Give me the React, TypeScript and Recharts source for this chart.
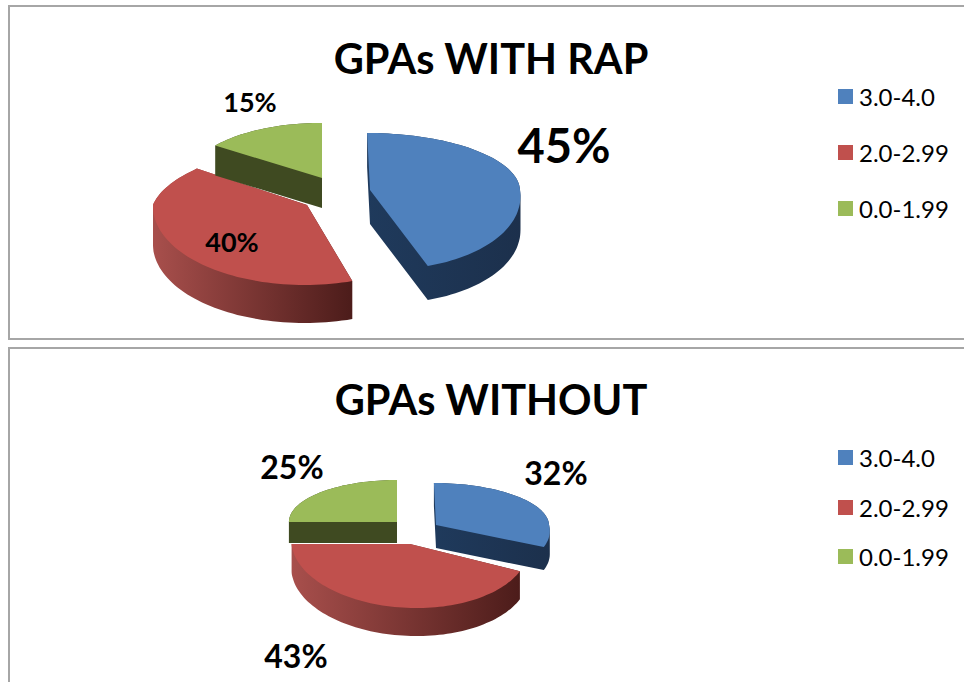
import { PieChart, Pie, Legend } from "recharts"

const CATEGORIES = ["3.0-4.0", "2.0-2.99", "0.0-1.99"]
const WITH_RAP = [45, 40, 15]
const WITHOUT_RAP = [32, 43, 25]
const COLORS = ["#4f81bd", "#c0504d", "#9bbb59"]
const WALL_FROM = ["#1f3a5c", "#a84f4c", "#3f4a21"]
const WALL_TO = ["#1c304c", "#4c1c1a", "#3f4a21"]

const FONT = "Lato, sans-serif"

// how each slice is pulled out and squashed, rx/top/bottom are fractions of the pie radius
const TOP_VIEWS = [
  { dx: 30, dy: -10, rx: 1.0, top: 0.38, bottom: 0.533, depth: 34, skewTop: 0.05, skewBottom: 0.15 },
  { dx: -33, dy: 5, rx: 1.027, top: 0.413, bottom: 0.533, depth: 38, skewTop: -0.4, skewBottom: -0.03 },
  { dx: -18, dy: -22, rx: 0.88, top: 0.367, bottom: 0.367, depth: 30, skewTop: 0, skewBottom: 0 },
]
const BOTTOM_VIEWS = [
  { dx: 21, dy: 0, rx: 0.983, top: 0.365, bottom: 0.452, depth: 23, skewTop: 0.05, skewBottom: 0.25 },
  { dx: -5, dy: 19, rx: 1.03, top: 0.365, bottom: 0.557, depth: 28, skewTop: 0, skewBottom: 0.1 },
  { dx: -18, dy: -3, rx: 0.94, top: 0.365, bottom: 0.365, depth: 21, skewTop: 0, skewBottom: 0 },
]

// label centre relative to the pie centre
const TOP_LABELS = [
  { x: 224, y: -55, size: 47 },
  { x: -108, y: 41, size: 27 },
  { x: -90, y: -99, size: 27 },
]
const BOTTOM_LABELS = [
  { x: 141, y: -53, size: 32 },
  { x: -119, y: 130, size: 32 },
  { x: -123, y: -59, size: 32 },
]

type Pt = [number, number]

// slices are all under 180 degrees, so the extruded wall is just the hull of top and bottom outline
function hull(points: Pt[]) {
  const sorted = [...points].sort((a, b) => a[0] - b[0] || a[1] - b[1])
  const cross = (o: Pt, a: Pt, b: Pt) => (a[0] - o[0]) * (b[1] - o[1]) - (a[1] - o[1]) * (b[0] - o[0])
  const half = (list: Pt[]) => {
    const out: Pt[] = []
    for (const p of list) {
      while (out.length > 1 && cross(out[out.length - 2], out[out.length - 1], p) <= 0) out.pop()
      out.push(p)
    }
    out.pop()
    return out
  }
  return [...half(sorted), ...half([...sorted].reverse())]
}

function makeShape(views: any[], chartId: string) {
  return (props: any) => {
    const i = CATEGORIES.indexOf(props.name ?? props.payload?.name)
    const v = views[i]
    const R = props.outerRadius
    const ox = props.cx + v.dx
    const oy = props.cy + v.dy
    const from = 90 - props.startAngle
    const to = 90 - props.endAngle
    const pts: Pt[] = [[ox, oy]]
    const steps = Math.ceil((to - from) / 2)
    for (let s = 0; s <= steps; s++) {
      const a = ((from + ((to - from) * s) / steps) * Math.PI) / 180
      const c = Math.cos(a)
      const off = -R * (c > 0 ? v.top : v.bottom) * c
      pts.push([ox + R * v.rx * Math.sin(a) + (c > 0 ? v.skewTop : v.skewBottom) * off, oy + off])
    }
    const d = (list: Pt[]) => "M" + list.map((p) => p[0].toFixed(1) + "," + p[1].toFixed(1)).join("L") + "Z"
    const xs = pts.map((p) => p[0])
    const gradId = chartId + "-wall-" + i
    const wall = hull([...pts, ...pts.map((p): Pt => [p[0], p[1] + v.depth])])
    return (
      <g>
        <defs>
          <linearGradient
            id={gradId}
            gradientUnits="userSpaceOnUse"
            x1={Math.min(...xs)}
            x2={Math.max(...xs)}
            y1={0}
            y2={0}
          >
            <stop offset="0%" stopColor={WALL_FROM[i]} />
            <stop offset="100%" stopColor={WALL_TO[i]} />
          </linearGradient>
        </defs>
        <path d={d(wall)} fill={"url(#" + gradId + ")"} />
        <path d={d(pts)} fill={COLORS[i]} />
      </g>
    )
  }
}

function makeLabel(labels: any[], cx: number, cy: number) {
  return (props: any) => {
    const l = labels[props.index]
    return (
      <text
        x={cx + l.x}
        y={cy + l.y}
        textAnchor="middle"
        dominantBaseline="central"
        fontFamily={FONT}
        fontWeight={700}
        fontSize={l.size}
        fill="#000"
      >
        {props.value}%
      </text>
    )
  }
}

function LegendBox({ payload, gap }: any) {
  return (
    <div>
      {(payload ?? []).map((entry: any) => (
        <div key={entry.value} style={{ display: "flex", alignItems: "center", height: gap }}>
          <span style={{ width: 15, height: 15, background: entry.color, marginRight: 6 }} />
          <span style={{ fontFamily: FONT, fontSize: 24, color: "#000" }}>{entry.value}</span>
        </div>
      ))}
    </div>
  )
}

function GpaPie({ id, title, values, top, height, cx, cy, radius, views, labels, titleY, legendTop, legendGap }: any) {
  const rows = CATEGORIES.map((name, i) => ({ name, value: values[i], fill: COLORS[i] }))
  return (
    <div style={{ position: "absolute", left: 0, top, width: 964, height }}>
      <div
        style={{
          position: "absolute",
          left: 0,
          width: 982,
          top: titleY,
          textAlign: "center",
          fontFamily: FONT,
          fontWeight: 700,
          fontSize: 41.5,
          lineHeight: "48px",
          color: "#000",
        }}
      >
        {title}
      </div>
      <PieChart width={964} height={height} margin={{ top: 0, right: 0, bottom: 0, left: 0 }}>
        <Pie
          data={rows}
          dataKey="value"
          nameKey="name"
          cx={cx}
          cy={cy}
          outerRadius={radius}
          startAngle={90}
          endAngle={-270}
          stroke="none"
          isAnimationActive={false}
          shape={makeShape(views, id)}
          label={makeLabel(labels, cx, cy)}
          labelLine={false}
        />
        <Legend
          layout="vertical"
          itemSorter={null}
          content={(p: any) => <LegendBox payload={p.payload} gap={legendGap} />}
          wrapperStyle={{ position: "absolute", left: 838, top: legendTop, width: 124, bottom: "auto", right: "auto" }}
        />
      </PieChart>
    </div>
  )
}

export default function App() {
  const boxBorder = "2px solid #a6a6a6"
  return (
    <div style={{ position: "absolute", left: 0, top: 0, width: 964, height: 682, overflow: "hidden", background: "#fff" }}>
      <div style={{ position: "absolute", left: 8, top: 5, width: 1000, height: 331, border: boxBorder }} />
      <div style={{ position: "absolute", left: 8, top: 347, width: 1000, height: 400, border: boxBorder }} />
      <GpaPie
        id="with"
        title="GPAs WITH RAP"
        values={WITH_RAP}
        top={0}
        height={340}
        cx={340}
        cy={200}
        radius={150}
        views={TOP_VIEWS}
        labels={TOP_LABELS}
        titleY={34}
        legendTop={68}
        legendGap={56}
      />
      <GpaPie
        id="without"
        title="GPAs WITHOUT"
        values={WITHOUT_RAP}
        top={340}
        height={342}
        cx={415}
        cy={185}
        radius={115}
        views={BOTTOM_VIEWS}
        labels={BOTTOM_LABELS}
        titleY={35}
        legendTop={93}
        legendGap={49.5}
      />
    </div>
  )
}
